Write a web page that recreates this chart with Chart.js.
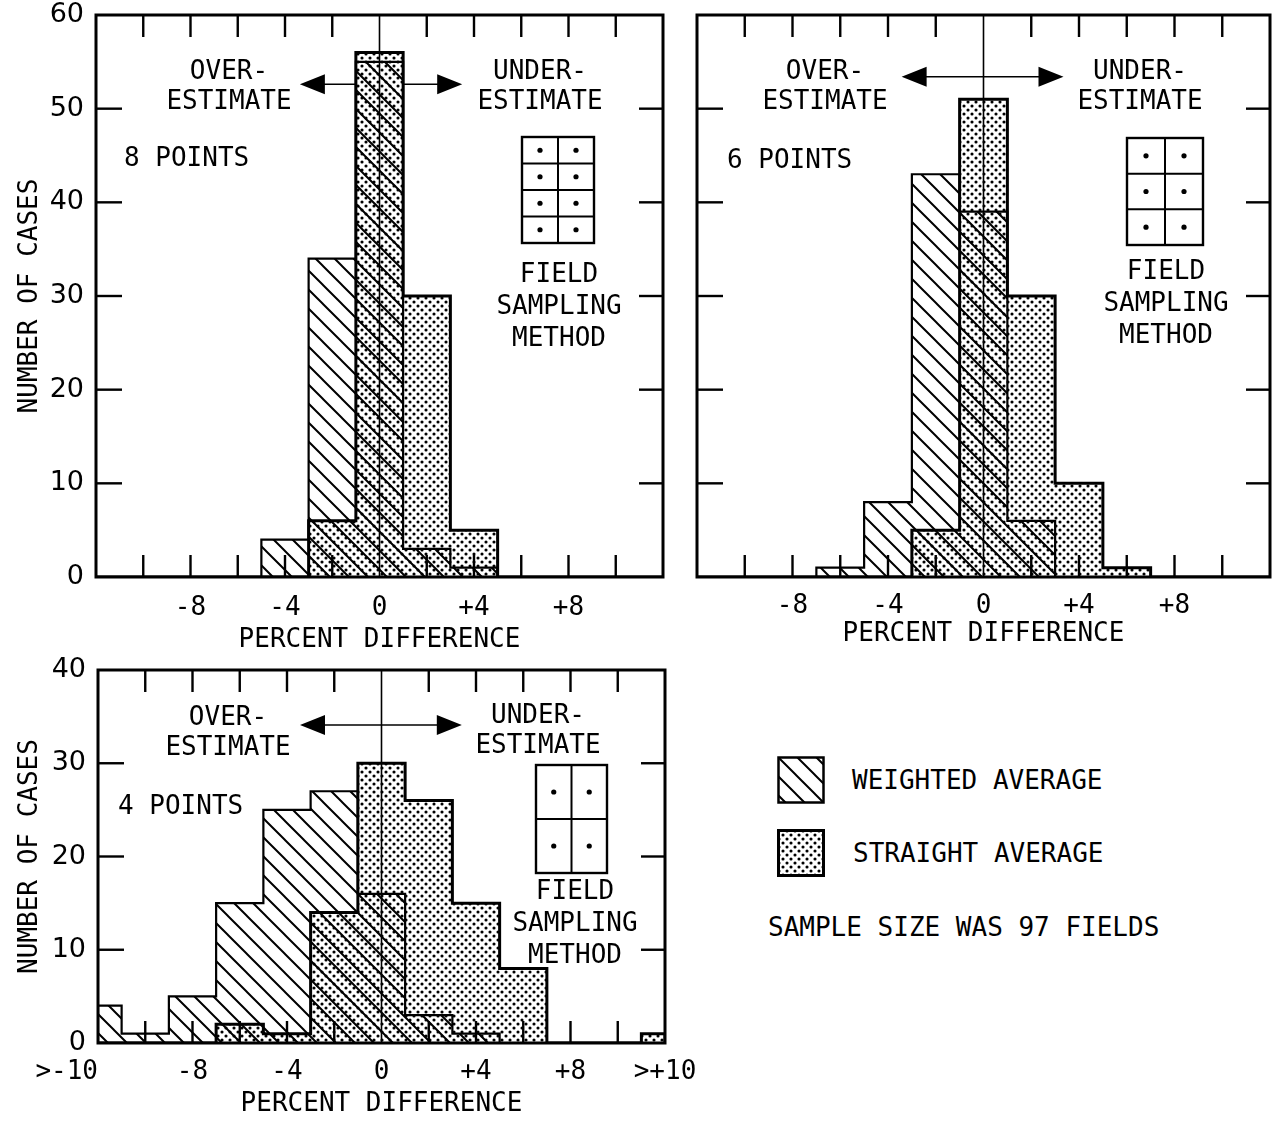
<!DOCTYPE html>
<html>
<head>
<meta charset="utf-8">
<script src="https://cdn.jsdelivr.net/npm/chart.js@4.4.0/dist/chart.umd.min.js"></script>
<style>
  body { margin: 0; background: #fff; }
  #page { position: relative; width: 1277px; height: 1121px; overflow: hidden; }
  canvas { position: absolute; }
  .note { position: absolute; font: 26px "DejaVu Sans Mono", monospace; color: #000; line-height: 30px; text-align: center; transform: translateX(-50%); white-space: nowrap; }
  .lab { position: absolute; font: 26px "DejaVu Sans Mono", monospace; color: #000; line-height: 30px; white-space: nowrap; }
  .tall { line-height: 32px; }
  .swatch { position: absolute; }
</style>
</head>
<body>
<div id="page">
  <canvas id="c8" width="668" height="660" style="left:0;top:0"></canvas>
  <canvas id="c6" width="587" height="660" style="left:690px;top:0"></canvas>
  <canvas id="c4" width="700" height="471" style="left:0;top:650px"></canvas>

  <div class="note" style="left:229px;top:55px">OVER-<br>ESTIMATE</div>
  <div class="note" style="left:540px;top:55px">UNDER-<br>ESTIMATE</div>
  <div class="lab" style="left:124px;top:142px">8 POINTS</div>
  <div class="note tall" style="left:559px;top:257px">FIELD<br>SAMPLING<br>METHOD</div>

  <div class="note" style="left:825px;top:55px">OVER-<br>ESTIMATE</div>
  <div class="note" style="left:1140px;top:55px">UNDER-<br>ESTIMATE</div>
  <div class="lab" style="left:727px;top:144px">6 POINTS</div>
  <div class="note tall" style="left:1166px;top:254px">FIELD<br>SAMPLING<br>METHOD</div>

  <div class="note" style="left:228px;top:701px">OVER-<br>ESTIMATE</div>
  <div class="note" style="left:538px;top:699px">UNDER-<br>ESTIMATE</div>
  <div class="lab" style="left:118px;top:790px">4 POINTS</div>
  <div class="note tall" style="left:575px;top:874px">FIELD<br>SAMPLING<br>METHOD</div>

  <canvas id="swW" class="swatch" width="48" height="48" style="left:777px;top:756px"></canvas>
  <div class="lab" style="left:852px;top:765px">WEIGHTED AVERAGE</div>
  <canvas id="swS" class="swatch" width="48" height="48" style="left:777px;top:829px"></canvas>
  <div class="lab" style="left:853px;top:838px">STRAIGHT AVERAGE</div>
  <div class="lab" style="left:768px;top:912px">SAMPLE SIZE WAS 97 FIELDS</div>
</div>

<script>
// histogram bins: edges in percent difference (end bins are the >-10 / >+10 catch-alls)
const binEdges = [-12, -11, -9, -7, -5, -3, -1, 1, 3, 5, 7, 9, 11, 12];
const binLabels = ['>-10', '-10', '-8', '-6', '-4', '-2', '0', '+2', '+4', '+6', '+8', '+10', '>+10'];

// number of cases per bin
const weighted8 = [0, 0, 0, 0, 4, 34, 55, 3, 1, 0, 0, 0, 0];
const straight8 = [0, 0, 0, 0, 0, 6, 56, 30, 5, 0, 0, 0, 0];
const weighted6 = [0, 0, 0, 1, 8, 43, 39, 6, 0, 0, 0, 0, 0];
const straight6 = [0, 0, 0, 0, 0, 5, 51, 30, 10, 1, 0, 0, 0];
const weighted4 = [4, 1, 5, 15, 25, 27, 16, 3, 1, 0, 0, 0, 0];
const straight4 = [0, 0, 0, 2, 1, 14, 30, 26, 15, 8, 0, 0, 1];

// x tick labels
const tickValues = [-8, -4, 0, 4, 8];
const tickText = ['-8', '-4', '0', '+4', '+8'];
const tickValues4 = [-12, -8, -4, 0, 4, 8, 12];
const tickText4 = ['>-10', '-8', '-4', '0', '+4', '+8', '>+10'];

Chart.defaults.font.family = '"DejaVu Sans Mono", monospace';
Chart.defaults.color = '#000';

// fill patterns
function hatchPattern() {
  const s = 19;
  const c = document.createElement('canvas');
  c.width = c.height = s;
  const g = c.getContext('2d');
  g.strokeStyle = '#000';
  g.lineWidth = 2;
  g.beginPath();
  g.moveTo(-3, -3); g.lineTo(s + 3, s + 3);
  g.moveTo(-3, s - 3); g.lineTo(3, s + 3);
  g.moveTo(s - 3, -3); g.lineTo(s + 3, 3);
  g.stroke();
  return g.createPattern(c, 'repeat');
}
function dotPattern() {
  const s = 8;
  const c = document.createElement('canvas');
  c.width = c.height = s;
  const g = c.getContext('2d');
  g.fillStyle = '#fff';
  g.fillRect(0, 0, s, s);
  g.fillStyle = '#000';
  [[2, 2], [6, 6]].forEach(p => {
    g.beginPath(); g.arc(p[0], p[1], 1.55, 0, Math.PI * 2); g.fill();
  });
  return g.createPattern(c, 'repeat');
}
const hatch = hatchPattern();
const dots = dotPattern();

// histogram outline as a stepped line through the bin edges
function steps(counts) {
  const pts = [{ x: binEdges[0], y: 0 }];
  counts.forEach((c, i) => pts.push({ x: binEdges[i + 1], y: c }));
  pts.push({ x: binEdges[binEdges.length - 1], y: 0 });
  return pts;
}

function seg(ctx, x1, y1, x2, y2) {
  ctx.beginPath(); ctx.moveTo(x1, y1); ctx.lineTo(x2, y2); ctx.stroke();
}

const decor = {
  id: 'decor',
  beforeDatasetsDraw(chart, args, opts) {
    if (!opts.arrow) return;
    const { ctx, scales: { x, y } } = chart;
    const py = y.getPixelForValue(opts.arrow.y);
    const xa = x.getPixelForValue(opts.arrow.from);
    const xb = x.getPixelForValue(opts.arrow.to);
    ctx.save();
    ctx.strokeStyle = '#000';
    ctx.fillStyle = '#000';
    ctx.lineWidth = 1.6;
    seg(ctx, xa + 10, py, xb - 10, py);
    [[xa, 1], [xb, -1]].forEach(([tip, d]) => {
      ctx.beginPath();
      ctx.moveTo(tip, py);
      ctx.lineTo(tip + d * 25, py - 10);
      ctx.lineTo(tip + d * 25, py + 10);
      ctx.closePath();
      ctx.fill();
    });
    ctx.restore();
  },
  afterDatasetsDraw(chart) {
    const { ctx, chartArea: a, scales: { x, y } } = chart;
    ctx.save();
    ctx.strokeStyle = '#000';
    ctx.lineWidth = 1.6;
    const x0 = x.getPixelForValue(0);
    seg(ctx, x0, a.top, x0, a.bottom);
    ctx.lineWidth = 2.4;
    x.ticks.forEach(t => {
      if (t.value <= x.min || t.value >= x.max || t.value === 0) return;
      const px = x.getPixelForValue(t.value);
      seg(ctx, px, a.top, px, a.top + 22);
      seg(ctx, px, a.bottom, px, a.bottom - 22);
    });
    y.ticks.forEach(t => {
      if (t.value <= y.min || t.value >= y.max) return;
      const py = y.getPixelForValue(t.value);
      seg(ctx, a.left, py, a.left + 26, py);
      seg(ctx, a.right, py, a.right - 24, py);
    });
    ctx.lineWidth = 3;
    ctx.strokeRect(a.left, a.top, a.right - a.left, a.bottom - a.top);
    ctx.restore();
  }
};

function makeChart(id, weighted, straight, o) {
  return new Chart(document.getElementById(id), {
    type: 'line',
    data: {
      datasets: [
        { label: 'WEIGHTED AVERAGE', data: steps(weighted), stepped: 'after', borderColor: '#000',
          borderWidth: 2.2, backgroundColor: hatch, fill: 'origin', pointRadius: 0 },
        { label: 'STRAIGHT AVERAGE', data: steps(straight), stepped: 'after', borderColor: '#000',
          borderWidth: 3, backgroundColor: dots, fill: 'origin', pointRadius: 0 }
      ]
    },
    options: {
      responsive: false,
      animation: false,
      events: [],
      layout: { padding: o.padding },
      plugins: { legend: { display: false }, tooltip: { enabled: false }, decor: { arrow: o.arrow } },
      scales: {
        x: {
          type: 'linear', min: -12, max: 12,
          grid: { display: false }, border: { display: false },
          ticks: {
            stepSize: 2, autoSkip: false, maxRotation: 0, padding: o.tickPad, font: { size: 26 },
            callback: v => {
              const i = o.tv.indexOf(v);
              if (i < 0) return '';
              return v === -12 ? o.tt[i] + '    ' : o.tt[i];
            }
          },
          title: { display: true, text: 'PERCENT DIFFERENCE', font: { size: 26, lineHeight: 1 },
                   padding: { top: 0, bottom: o.titlePad } },
          afterFit: s => { s.height = o.xHeight; s.paddingLeft = 0; s.paddingRight = 0; }
        },
        y: {
          min: 0, max: o.yMax,
          grid: { display: false }, border: { display: false },
          ticks: { display: o.yLabels, stepSize: 10, padding: 4,
                   font: { family: '"DejaVu Sans", sans-serif', size: 27 } },
          title: { display: o.yLabels, text: 'NUMBER OF CASES', font: { size: 26, lineHeight: 1 },
                   padding: { top: 17, bottom: 0 } },
          afterFit: s => { s.width = o.yWidth; s.paddingTop = 0; s.paddingBottom = 0; }
        }
      }
    },
    plugins: [decor]
  });
}

makeChart('c8', weighted8, straight8, {
  padding: { top: 15, right: 5 }, yWidth: 96, xHeight: 83, yMax: 60, yLabels: true,
  tickPad: 8, titlePad: 7, tv: tickValues, tt: tickText,
  arrow: { y: 52.6, from: -3.37, to: 3.5 }
});
makeChart('c6', weighted6, straight6, {
  padding: { top: 15, right: 7 }, yWidth: 7, xHeight: 83, yMax: 60, yLabels: false,
  tickPad: 6, titlePad: 13, tv: tickValues, tt: tickText,
  arrow: { y: 53.4, from: -3.43, to: 3.35 }
});
makeChart('c4', weighted4, straight4, {
  padding: { top: 20, right: 35 }, yWidth: 98, xHeight: 78, yMax: 40, yLabels: true,
  tickPad: 6, titlePad: 4, tv: tickValues4, tt: tickText4,
  arrow: { y: 34.1, from: -3.45, to: 3.4 }
});

// legend swatches
[['swW', hatch], ['swS', dots]].forEach(([id, pat]) => {
  const g = document.getElementById(id).getContext('2d');
  g.fillStyle = pat;
  g.fillRect(1.5, 1.5, 45, 45);
  g.strokeStyle = '#000';
  g.lineWidth = id === 'swS' ? 3 : 2.5;
  g.strokeRect(1.5, 1.5, 45, 45);
});

// field sampling grid icons
function icon(left, top, w, h, rows) {
  const ns = 'http://www.w3.org/2000/svg';
  const svg = document.createElementNS(ns, 'svg');
  svg.setAttribute('width', w + 4);
  svg.setAttribute('height', h + 4);
  svg.style.cssText = `position:absolute;left:${left - 2}px;top:${top - 2}px`;
  const add = (tag, attrs) => {
    const el = document.createElementNS(ns, tag);
    Object.entries(attrs).forEach(([k, v]) => el.setAttribute(k, v));
    svg.appendChild(el);
  };
  add('rect', { x: 2, y: 2, width: w, height: h, fill: 'none', stroke: '#000', 'stroke-width': 2.4 });
  add('line', { x1: 2 + w / 2, y1: 2, x2: 2 + w / 2, y2: 2 + h, stroke: '#000', 'stroke-width': 2 });
  const ch = h / rows;
  for (let r = 0; r < rows; r++) {
    if (r > 0) add('line', { x1: 2, y1: 2 + r * ch, x2: 2 + w, y2: 2 + r * ch, stroke: '#000', 'stroke-width': 2 });
    [0.25, 0.75].forEach(f => add('circle', { cx: 2 + w * f, cy: 2 + (r + 0.5) * ch, r: 2.6, fill: '#000' }));
  }
  document.getElementById('page').appendChild(svg);
}
icon(522, 137, 72, 106, 4);
icon(1127, 138, 76, 107, 3);
icon(536, 765, 71, 108, 2);
</script>
</body>
</html>
